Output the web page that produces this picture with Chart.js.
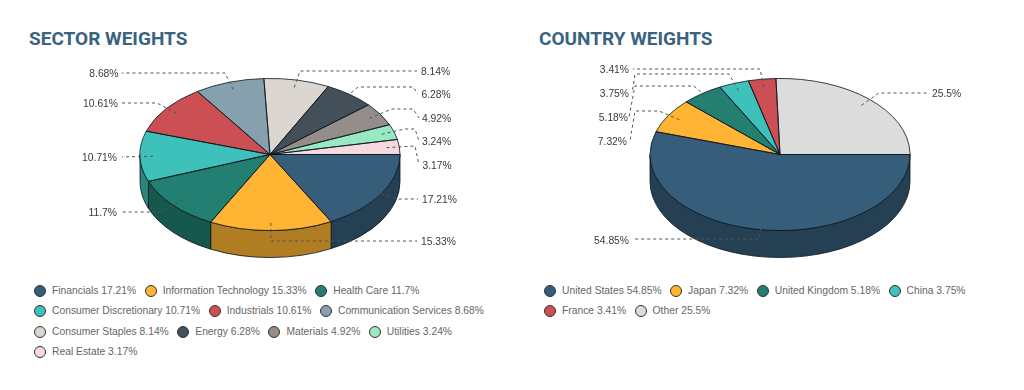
<!DOCTYPE html>
<html>
<head>
<meta charset="utf-8">
<script src="https://cdn.jsdelivr.net/npm/chart.js@4"></script>
<style>
  html, body { margin: 0; padding: 0; background: #fff; width: 1024px; height: 390px; overflow: hidden; }
  .panel { position: absolute; top: 0; width: 512px; height: 390px; }
  #sectorPanel { left: 0; }
  #countryPanel { left: 512px; }
  .panel canvas { position: absolute; left: 0; top: 0; }
  h2 { position: absolute; top: 28px; margin: 0; font: 700 19px Roboto, sans-serif; color: #39637f; line-height: 22px; white-space: nowrap; }
  #sectorPanel h2 { left: 29px; }
  #countryPanel h2 { left: 27px; }
  .legend { position: absolute; top: 280.5px; width: 470px; display: flex; flex-wrap: wrap; font: 10.3px "Liberation Sans", sans-serif; color: #666; line-height: 20.5px; }
  #sectorPanel .legend { left: 34px; }
  #countryPanel .legend { left: 32px; }
  .legend span { display: flex; align-items: center; margin-right: 8.5px; white-space: nowrap; }
  .legend i { display: block; box-sizing: border-box; width: 12px; height: 12px; border-radius: 50%; border: 1px solid #333; margin-right: 6px; }
</style>
</head>
<body>
<div class="panel" id="sectorPanel">
  <h2>SECTOR WEIGHTS</h2>
  <canvas id="sectorChart" width="512" height="270"></canvas>
  <div class="legend" id="sectorLegend"></div>
</div>
<div class="panel" id="countryPanel">
  <h2>COUNTRY WEIGHTS</h2>
  <canvas id="countryChart" width="512" height="270"></canvas>
  <div class="legend" id="countryLegend"></div>
</div>
<script>
// Chart values
const sectorLabels = ['Financials', 'Information Technology', 'Health Care', 'Consumer Discretionary', 'Industrials', 'Communication Services', 'Consumer Staples', 'Energy', 'Materials', 'Utilities', 'Real Estate'];
const sectorValues = [17.21, 15.33, 11.7, 10.71, 10.61, 8.68, 8.14, 6.28, 4.92, 3.24, 3.17];
const sectorColors = ['#365d79', '#ffb533', '#227f71', '#3ec1bb', '#cb4f53', '#87a0ae', '#dcd6d0', '#434f59', '#958d8a', '#97e8c3', '#f5d9dc'];

const countryLabels = ['United States', 'Japan', 'United Kingdom', 'China', 'France', 'Other'];
const countryValues = [54.85, 7.32, 5.18, 3.75, 3.41, 25.5];
const countryColors = ['#365d79', '#ffb533', '#227f71', '#3ec1bb', '#cb4f53', '#dcdcdc'];

// Leader line layout: knee points after the slice anchor, then where the text goes
const sectorLeaders = [
  { knees: [[397, 199], [418, 199]], text: [422, 199], align: 'left' },
  { knees: [[271, 241], [417, 241]], text: [421, 241], align: 'left' },
  { knees: [[160, 212], [122, 212]], text: [117, 212], align: 'right' },
  { knees: [[122, 157]], text: [117, 157], align: 'right' },
  { knees: [[157, 103], [122, 103]], text: [118, 103], align: 'right' },
  { knees: [[225, 73], [122, 73]], text: [118.5, 73], align: 'right' },
  { knees: [[300, 71], [417, 71]], text: [421, 71], align: 'left' },
  { knees: [[358, 87], [413, 87], [418, 94]], text: [421.5, 94], align: 'left' },
  { knees: [[392, 109], [413, 109], [419, 118]], text: [422, 118], align: 'left' },
  { knees: [[405, 129], [415, 129], [419, 141]], text: [422, 141], align: 'left' },
  { knees: [[415, 146], [419, 165]], text: [422.5, 165], align: 'left' }
];
const countryLeaders = [
  { knees: [[247, 239], [121, 239]], text: [117, 240], align: 'right' },
  { knees: [[147, 111], [123, 111], [118, 141]], text: [115, 141], align: 'right' },
  { knees: [[182, 86], [123, 86], [117, 117]], text: [116, 117], align: 'right' },
  { knees: [[217, 74], [123, 74], [120, 93]], text: [117, 93], align: 'right' },
  { knees: [[248, 69], [121, 69]], text: [117, 69], align: 'right' },
  { knees: [[367, 93], [417, 93]], text: [420, 93], align: 'left' }
];

const SQUASH = 0.585; // tilt of the pie
const DEPTH = 27;     // wall height in px
const EDGE = 'rgba(10, 20, 28, 0.8)';

function darken(hex) {
  const n = parseInt(hex.slice(1), 16);
  const part = s => Math.round(((n >> s) & 255) * 0.69);
  return `rgb(${part(16)}, ${part(8)}, ${part(0)})`;
}

// Draws the walls under the arcs, squashes the arcs, then outlines and labels them
const tiltedPie = {
  id: 'tiltedPie',
  beforeDatasetsDraw(chart) {
    const ctx = chart.ctx;
    const arcs = chart.getDatasetMeta(0).data;
    const { x, y, outerRadius: r } = arcs[0];
    const ry = r * SQUASH;
    ctx.save();
    arcs.forEach((arc, i) => {
      const a0 = Math.max(arc.startAngle, 0);
      const a1 = Math.min(arc.endAngle, Math.PI);
      if (a0 >= a1) return;
      ctx.beginPath();
      ctx.ellipse(x, y, r, ry, 0, a0, a1);
      ctx.lineTo(x + r * Math.cos(a1), y + ry * Math.sin(a1) + DEPTH);
      ctx.ellipse(x, y + DEPTH, r, ry, 0, a1, a0, true);
      ctx.closePath();
      ctx.fillStyle = darken(chart.data.datasets[0].backgroundColor[i]);
      ctx.fill();
      ctx.strokeStyle = EDGE;
      ctx.lineWidth = 1;
      ctx.stroke();
    });
    ctx.restore();
    ctx.save();
    ctx.translate(x, y);
    ctx.scale(1, SQUASH);
    ctx.translate(-x, -y);
  },
  afterDatasetsDraw(chart, args, opts) {
    const ctx = chart.ctx;
    ctx.restore();
    const arcs = chart.getDatasetMeta(0).data;
    const { x, y, outerRadius: r } = arcs[0];
    const ry = r * SQUASH;
    ctx.save();
    ctx.strokeStyle = EDGE;
    ctx.lineWidth = 1;
    arcs.forEach(arc => {
      ctx.beginPath();
      ctx.moveTo(x, y);
      ctx.ellipse(x, y, r, ry, 0, arc.startAngle, arc.endAngle);
      ctx.closePath();
      ctx.stroke();
    });
    ctx.font = '10.3px "Liberation Sans", sans-serif';
    ctx.textBaseline = 'middle';
    arcs.forEach((arc, i) => {
      const leader = opts.leaders[i];
      const mid = (arc.startAngle + arc.endAngle) / 2;
      ctx.beginPath();
      ctx.moveTo(x + 0.9 * r * Math.cos(mid), y + 0.9 * ry * Math.sin(mid));
      leader.knees.forEach(p => ctx.lineTo(p[0], p[1]));
      ctx.setLineDash([3, 3]);
      ctx.strokeStyle = '#555';
      ctx.stroke();
      ctx.setLineDash([]);
      ctx.fillStyle = '#3a3a3a';
      ctx.textAlign = leader.align;
      ctx.fillText(chart.data.datasets[0].data[i] + '%', leader.text[0], leader.text[1] + 0.7);
    });
    ctx.restore();
  }
};

function makePie(canvasId, legendId, labels, values, colors, leaders, paddingLeft) {
  new Chart(document.getElementById(canvasId), {
    type: 'pie',
    data: {
      labels: labels,
      datasets: [{ data: values, backgroundColor: colors, borderWidth: 0, clip: false }]
    },
    options: {
      responsive: false,
      animation: false,
      radius: 130,
      rotation: 90,
      layout: { padding: { left: paddingLeft, top: 39, right: 0, bottom: 0 } },
      plugins: {
        legend: { display: false },
        tooltip: { enabled: false },
        tiltedPie: { leaders: leaders }
      }
    },
    plugins: [tiltedPie]
  });

  const legend = document.getElementById(legendId);
  labels.forEach((label, i) => {
    const item = document.createElement('span');
    const dot = document.createElement('i');
    dot.style.background = colors[i];
    item.appendChild(dot);
    item.appendChild(document.createTextNode(`${label} ${values[i]}%`));
    legend.appendChild(item);
  });
}

makePie('sectorChart', 'sectorLegend', sectorLabels, sectorValues, sectorColors, sectorLeaders, 28);
makePie('countryChart', 'countryLegend', countryLabels, countryValues, countryColors, countryLeaders, 24);
</script>
</body>
</html>
